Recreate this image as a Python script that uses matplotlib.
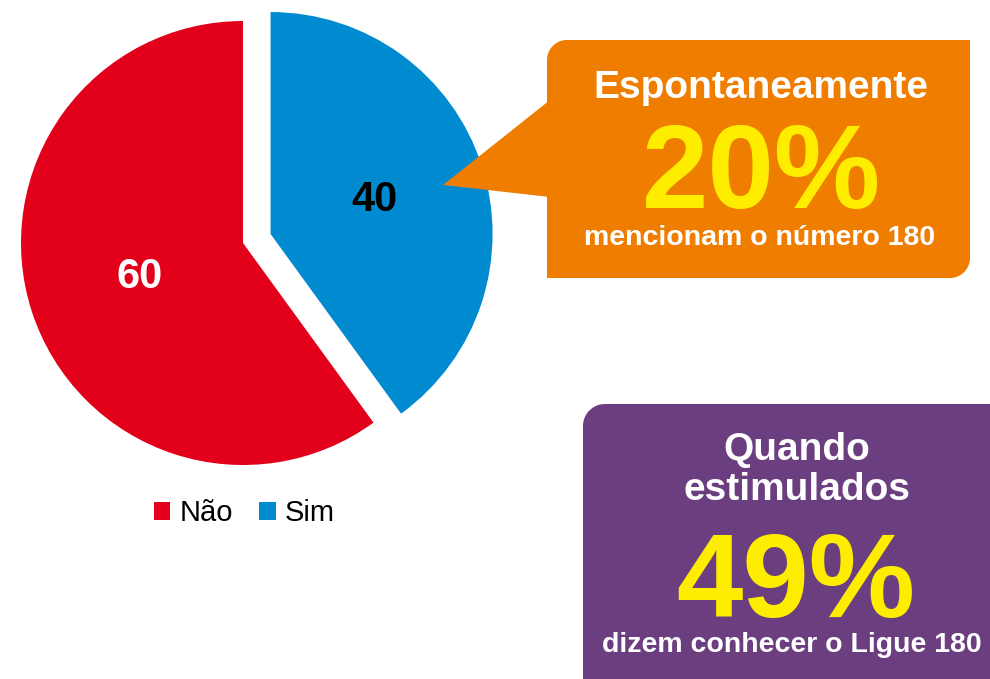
import numpy as np
import matplotlib.pyplot as plt
from matplotlib.patches import Polygon

plt.rcParams['font.family'] = ['Liberation Sans', 'DejaVu Sans']

# data
labels = ['Não', 'Sim']
values = [60, 40]
colors = ['#E2001A', '#008BD0']

spont_title = 'Espontaneamente'
spont_pct = 20
spont_note = 'mencionam o número 180'

stim_title = 'Quando\nestimulados'
stim_pct = 49
stim_note = 'dizem conhecer o Ligue 180'

ORANGE = '#EF7D00'
PURPLE = '#6B3E7F'
YELLOW = '#FFED00'


def rounded_box(x0, y0, x1, y1, radii):
    # radii: top-left, top-right, bottom-right, bottom-left (y axis points down)
    rtl, rtr, rbr, rbl = radii
    pts = []
    corners = [((x0 + rtl, y0 + rtl), rtl, np.pi, 1.5 * np.pi),
               ((x1 - rtr, y0 + rtr), rtr, 1.5 * np.pi, 2 * np.pi),
               ((x1 - rbr, y1 - rbr), rbr, 0, 0.5 * np.pi),
               ((x0 + rbl, y1 - rbl), rbl, 0.5 * np.pi, np.pi)]
    for (cx, cy), r, a0, a1 in corners:
        t = np.linspace(a0, a1, 20)
        pts.extend(zip(cx + r * np.cos(t), cy + r * np.sin(t)))
    return pts


fig = plt.figure(figsize=(9.9, 6.79), dpi=100)
ax = fig.add_axes([0, 0, 1, 1])

# explode is in data units here (pixels)
wedges, texts, autotexts = ax.pie(
    values, colors=colors, center=(243, 243), radius=222,
    startangle=-90, counterclock=False, explode=[0, 29],
    autopct=lambda p: f'{p:.0f}', pctdistance=0.49,
    textprops=dict(fontsize=30, fontweight='bold'))
autotexts[0].set_color('white')
autotexts[1].set_color('black')

ax.set_xlim(0, 990)
ax.set_ylim(679, 0)
ax.set_aspect('equal')
ax.axis('off')

ax.legend(wedges, labels, loc='center', bbox_to_anchor=(244, 513),
          bbox_transform=ax.transData, ncol=2, frameon=False, fontsize=21,
          handlelength=0.57, handleheight=0.57, handletextpad=0.3,
          columnspacing=0.9, borderpad=0)

# orange callout
ax.add_patch(Polygon(rounded_box(547, 40, 970, 278, (20, 0, 20, 0)),
                     closed=True, facecolor=ORANGE, edgecolor='none', zorder=3))
ax.add_patch(Polygon([(550, 100), (443, 185), (550, 197)], closed=True,
                     facecolor=ORANGE, edgecolor='none', zorder=3))
ax.text(761, 98, spont_title, ha='center', va='baseline', color='white',
        fontsize=28, fontweight='bold', zorder=4)
ax.text(761, 208, f'{spont_pct}%', ha='center', va='baseline', color=YELLOW,
        fontsize=86, fontweight='bold', zorder=4)
ax.text(760, 245, spont_note, ha='center', va='baseline', color='white',
        fontsize=20.5, fontweight='bold', zorder=4)

# purple box
ax.add_patch(Polygon(rounded_box(583, 404, 1000, 690, (22, 0, 0, 0)),
                     closed=True, facecolor=PURPLE, edgecolor='none', zorder=3))
ax.text(797, 460, 'Quando', ha='center', va='baseline', color='white',
        fontsize=28, fontweight='bold', zorder=4)
ax.text(797, 500, 'estimulados', ha='center', va='baseline', color='white',
        fontsize=28, fontweight='bold', zorder=4)
ax.text(796, 617, f'{stim_pct}%', ha='center', va='baseline', color=YELLOW,
        fontsize=86, fontweight='bold', zorder=4)
ax.text(792, 652, stim_note, ha='center', va='baseline', color='white',
        fontsize=20.5, fontweight='bold', zorder=4)

fig.savefig('out.png', dpi=100)
